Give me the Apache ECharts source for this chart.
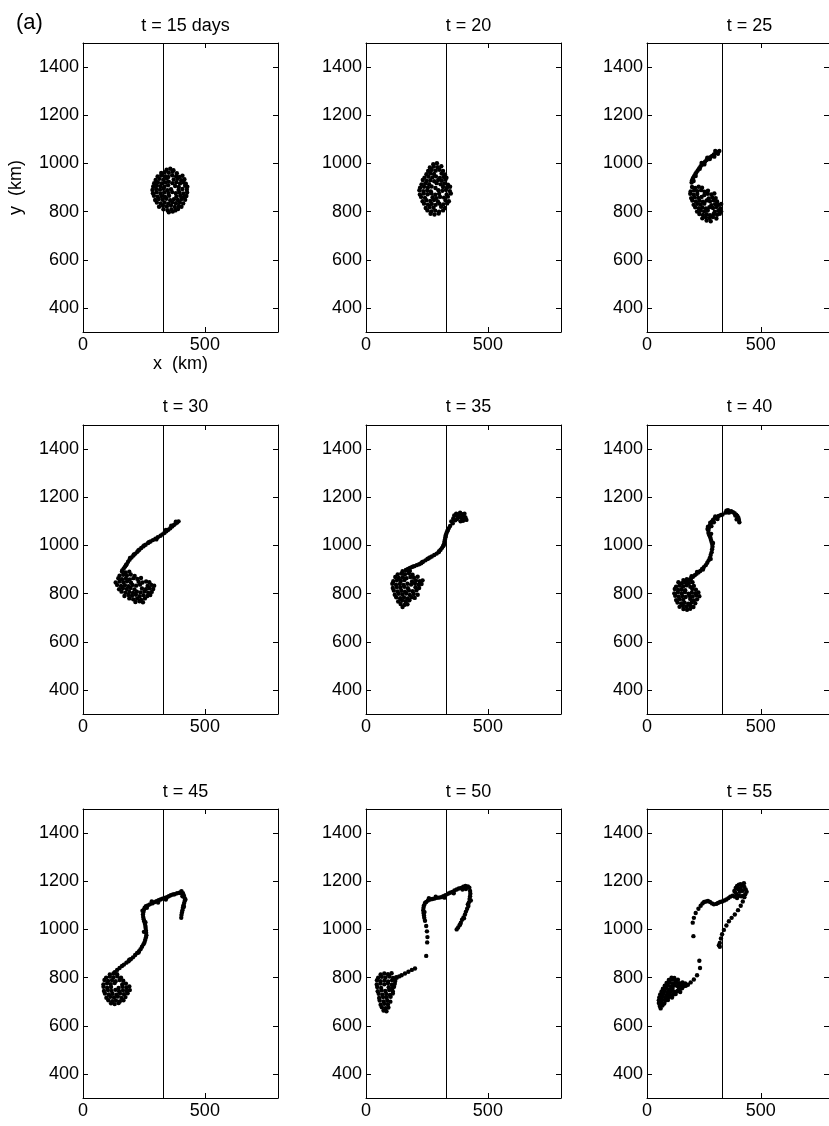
<!DOCTYPE html>
<html><head><meta charset="utf-8">
<script src="https://cdn.jsdelivr.net/npm/echarts@6/dist/echarts.min.js"></script>
<style>html,body{margin:0;padding:0;background:#fff}#c{width:829px;height:1126px}</style>
</head><body><div id="c"></div>
<script>
// ---------- data ----------
const panelTitles = ['t = 15 days', 't = 20', 't = 25', 't = 30', 't = 35', 't = 40', 't = 45', 't = 50', 't = 55'];
const xTicks = [0, 500];
const yTicks = [400, 600, 800, 1000, 1200, 1400];
const xRange = [0, 800];
const yRange = [300, 1500];
const frontX = 330;

const p15 = [[343,974],[358,978],[371,972],
[321,960],[336,964],[352,961],[368,966],[385,959],
[306,946],[321,950],[337,947],[350,944],[366,951],[382,947],[396,944],[408,949],
[298,931],[313,936],[329,932],[344,937],[372,933],[388,936],[403,930],[416,934],
[292,918],[307,922],[322,917],[339,921],[352,924],[367,918],[383,922],[398,917],[413,921],[422,916],
[288,904],[303,908],[318,905],[334,903],[349,909],[378,906],[393,902],[419,907],[428,903],
[285,890],[300,894],[316,891],[331,895],[346,889],[361,893],[392,890],[408,894],[426,891],
[287,876],[302,880],[318,875],[333,879],[350,877],[366,881],[381,876],[396,879],[412,875],[427,879],
[291,866],[306,862],[322,865],[337,861],[353,866],[383,862],[399,866],[414,861],[424,865],
[296,848],[311,852],[327,849],[342,853],[358,847],[373,851],[389,848],[404,852],[419,849],
[303,838],[319,834],[335,837],[350,833],[366,838],[381,835],[397,839],[411,834],
[312,820],[328,824],[344,821],[361,825],[377,819],[393,823],[404,820],
[330,810],[347,806],[363,809],[379,805],[390,811],
[352,797],[368,800]];

const p20 = [[276,997],[291,1001],
[262,983],[278,987],[294,984],[309,988],
[255,969],[270,973],[286,970],[301,974],[316,969],
[248,955],[264,959],[279,956],[310,958],[324,954],
[240,941],[256,945],[272,942],[287,946],[303,940],[318,944],[330,941],
[233,931],[249,927],[264,930],[280,926],[296,931],[311,928],[326,932],
[228,913],[243,917],[259,914],[290,918],[306,913],[321,916],[336,912],
[222,899],[238,903],[254,900],[269,904],[285,898],[316,902],[332,899],[345,903],
[219,889],[235,885],[251,888],[266,884],[297,889],[313,886],[328,890],[344,885],
[221,871],[237,875],[253,872],[268,876],[284,870],[300,874],[331,871],[348,875],
[226,861],[242,857],[273,860],[289,856],[304,861],[320,858],[336,862],
[232,843],[248,847],[264,844],[279,848],[295,842],[326,846],[340,843],
[238,833],[254,829],[270,832],[286,828],[301,833],[317,830],[333,834],
[245,815],[261,819],[277,816],[308,820],[324,815],
[252,805],[268,801],[284,804],[300,800],[316,805],
[265,791],[281,788],[298,792]];

const p25 = [[318,1052],[310,1047],[302,1043],[294,1037],[286,1031],[278,1026],[270,1020],[262,1014],[255,1007],[248,1001],
[241,994],[235,987],[229,979],[223,971],[217,963],[212,955],[207,947],[202,939],[198,930],[196,921],
[312,1040],[296,1028],[276,1018],[252,996],[232,978],[214,948],[205,927],[300,1052],[265,1024],[240,1002],
[198,902],[212,898],[227,903],[242,899],
[192,884],[207,888],[222,885],[238,889],[253,883],[268,887],
[190,874],[205,870],[221,873],[252,869],[267,874],[283,871],[296,875],
[194,856],[209,860],[225,857],[240,861],[271,855],[287,859],[302,856],
[199,846],[215,842],[231,845],[246,841],[262,846],[277,843],[293,847],[308,842],
[205,828],[221,832],[236,829],[252,833],[283,827],[299,831],[314,828],[326,832],
[212,818],[228,814],[243,817],[259,813],[274,818],[290,815],[305,819],[322,814],
[220,800],[236,804],[251,801],[267,805],[298,799],[313,803],[326,800],
[230,790],[246,786],[262,789],[277,785],[293,790],[308,787],[320,791],
[243,772],[259,776],[275,773],[290,777],[305,771],
[262,763],[280,760]];

const p30 = [[392,1100],[386,1095],[380,1091],[373,1085],[366,1079],[358,1071],[350,1065],[342,1059],[334,1052],[326,1046],
[318,1040],[307,1034],[297,1028],[287,1022],[277,1016],[267,1010],[257,1003],[247,996],[239,989],[231,982],
[223,974],[215,966],[207,958],[199,950],[191,941],[185,932],[179,922],[173,912],[167,904],[161,896],
[381,1098],[362,1082],[340,1064],[301,1025],[270,1013],[251,1000],[227,979],[209,963],[193,948],[176,918],
[160,892],[175,888],[190,891],
[150,874],[165,878],[180,875],[196,879],[212,873],
[145,864],[160,860],[176,863],[192,859],[207,864],[223,861],[238,865],
[134,846],[150,850],[166,847],[181,851],[197,845],[228,849],[244,846],[259,850],[272,847],
[140,836],[156,832],[172,835],[187,831],[203,836],[218,833],[234,837],[265,832],[280,836],[292,833],
[148,818],[164,822],[180,819],[195,823],[211,817],[242,821],[258,818],[273,822],[288,819],
[158,808],[174,804],[190,807],[205,803],[221,808],[236,805],[252,809],[267,804],[282,807],
[170,790],[186,794],[201,791],[217,795],[232,789],[248,793],[264,790],[276,794],
[190,780],[206,776],[222,779],[238,775],[254,780],
[215,765],[232,768],[246,764]];

const p35 = [[350,1100],[358,1112],[362,1124],[370,1132],[378,1128],[386,1136],[394,1130],[400,1124],[408,1116],[412,1106],
[402,1108],[392,1114],[384,1118],[374,1110],[366,1104],[356,1092],[388,1100],[398,1102],[376,1120],[404,1132],
[345,1081],[340,1072],[336,1064],[331,1053],[328,1044],[326,1034],[324,1025],[322,1016],[320,1006],[317,998],
[312,990],[306,982],[298,972],[290,966],[280,960],[270,954],[262,950],[252,944],[244,938],[234,932],
[226,926],[218,922],[208,918],[198,914],[188,910],[180,906],[172,902],[164,898],
[334,1060],[327,1040],[318,1000],[300,976],[256,946],[230,930],[192,912],
[150,893],[165,897],[180,894],
[130,879],[145,883],[160,880],[176,884],[191,878],
[120,869],[135,865],[151,868],[166,864],[182,869],[197,866],[212,870],
[112,851],[127,855],[143,852],[158,856],[189,850],[205,854],[220,851],[232,855],
[108,841],[123,837],[139,840],[154,836],[170,841],[185,838],[201,842],[216,837],[228,840],
[110,823],[126,827],[141,824],[157,828],[172,822],[203,826],[218,823],
[114,813],[129,809],[145,812],[160,808],[176,813],[191,810],[207,814],
[118,795],[134,799],[149,796],[165,800],[180,794],[196,798],[212,795],
[124,785],[140,781],[156,784],[171,780],[187,785],[200,782],
[132,767],[148,771],[163,768],[178,772],
[142,757],[158,753],[170,756],
[150,744]];

const p40 = [[349,1144],[356,1146],[364,1140],[370,1142],[378,1138],[385,1134],[392,1128],[397,1122],[402,1114],[404,1106],
[406,1096],[398,1118],[388,1124],[360,1136],[345,1136],[394,1108],
[332,1128],[325,1126],[315,1122],[305,1116],[297,1112],[290,1106],[285,1098],[280,1090],[276,1082],[272,1072],
[270,1062],[270,1052],[274,1042],[278,1034],[281,1024],[284,1014],[287,1004],[288,994],[286,984],[284,972],
[280,960],[276,948],[271,938],[265,928],[258,918],[250,910],[242,902],[234,894],[226,888],[218,882],
[210,876],[202,870],[194,864],[186,858],[178,852],[294,1096],[283,1080],[266,1068],[282,1048],[290,1010],
[280,944],[246,900],[220,890],[196,872],[300,1120],[310,1110],[278,1094],[268,1078],
[160,856],[175,860],[190,857],
[138,847],[153,843],[168,846],[184,842],[200,847],
[128,829],[143,833],[159,830],[174,834],[190,828],[206,832],
[122,819],[137,815],[152,818],[168,814],[199,819],[215,816],
[120,801],[135,805],[151,802],[166,806],[182,800],[197,804],[212,801],[226,805],
[124,791],[139,787],[155,790],[170,786],[186,791],[201,788],[217,792],[230,789],
[128,773],[143,777],[159,774],[190,778],[205,772],[220,776],
[134,763],[150,759],[165,762],[181,758],[196,763],[212,760],
[143,745],[158,749],[174,746],[190,750],[204,744],
[160,736],[176,733],[190,737]];

const p45 = [[404,1159],[410,1150],[414,1140],[417,1130],[418,1120],[415,1110],[412,1100],[410,1090],[408,1080],[406,1070],
[404,1060],[403,1048],[420,1124],[408,1138],[402,1150],[414,1094],
[396,1152],[386,1150],[376,1146],[369,1145],[360,1142],[352,1138],[344,1134],[335,1131],[326,1128],[318,1124],
[310,1121],[301,1117],[292,1113],[284,1108],[274,1104],[266,1100],[258,1096],[253,1090],[250,1082],[248,1072],
[246,1062],[247,1052],[249,1042],[251,1034],[254,1024],[256,1014],[257,1006],[258,996],[259,986],[260,976],
[258,966],[255,956],[252,946],[248,938],[242,928],[236,918],[230,910],[222,902],[214,894],[205,884],
[196,876],[187,868],[178,862],[168,854],[160,848],[150,840],[140,832],[130,822],
[340,1124],[308,1112],[282,1116],[262,1090],[244,1078],[256,1030],[250,990],[228,904],[190,874],
[110,813],[125,817],[140,814],
[95,800],[110,804],[125,801],[141,805],[156,799],
[88,790],[103,786],[119,789],[134,785],[150,790],[165,787],
[84,772],[99,776],[114,773],[130,777],[161,771],[176,775],
[84,762],[99,758],[115,761],[146,757],[162,762],[178,759],[190,763],
[86,744],[102,748],[117,745],[133,749],[148,743],[164,747],[179,744],[192,748],
[90,734],[106,730],[121,733],[137,729],[152,734],[168,731],[183,735],
[96,716],[112,720],[127,717],[143,721],[158,715],[174,719],
[104,706],[120,702],[135,705],[151,701],[166,706],
[115,693],[130,690],[146,694]];

const p50 = [[424,1173],[427,1160],[428,1148],[427,1138],[425,1126],[422,1112],[420,1097],[415,1086],[410,1074],[406,1062],
[400,1050],[394,1040],[389,1028],[384,1018],[378,1008],[372,1000],[430,1120],[418,1104],[402,1046],[386,1020],
[418,1178],[408,1180],[399,1177],[390,1172],[381,1170],[372,1166],[363,1162],[354,1156],[345,1152],[336,1148],
[326,1142],[317,1138],[308,1134],[299,1132],[290,1131],[281,1128],[272,1126],[263,1124],[254,1120],[247,1114],
[242,1110],[238,1100],[236,1090],[235,1080],[236,1068],[238,1058],[239,1048],[242,1036],[247,1014],[250,992],
[252,968],[251,946],[247,890],[410,1168],[396,1166],[360,1150],[322,1132],[286,1136],[258,1130],[240,1072],
[201,838],[188,832],[174,824],[160,817],[146,810],[136,805],[126,799],
[60,813],[75,817],[90,814],[105,818],
[50,799],[65,803],[80,800],[96,804],[111,798],[124,802],
[45,789],[60,785],[76,788],[91,784],[107,789],[120,786],
[44,771],[59,775],[75,772],[90,776],[106,770],[118,774],
[46,761],[62,757],[93,760],[108,756],[115,762],
[48,743],[64,747],[79,744],[95,748],[110,742],
[52,733],[67,729],[83,732],[98,728],[110,734],
[54,715],[70,719],[85,716],[101,720],
[56,705],[72,701],[87,704],[100,700],
[60,687],[75,691],[90,688],
[65,677],[80,673],[92,676],
[72,663],[84,660]];

const p55 = [[384,1160],[390,1172],[396,1180],[404,1186],[412,1188],[420,1184],[428,1176],[434,1166],[438,1156],[432,1146],
[424,1140],[414,1138],[404,1140],[394,1146],[388,1154],[400,1168],[412,1172],[420,1160],[408,1156],[396,1130],
[386,1136],[426,1192],
[428,1134],[421,1116],[412,1098],[400,1080],[386,1062],[372,1048],[360,1034],[349,1016],[338,998],[330,980],
[325,962],[320,944],[316,934],[320,928],
[376,1140],[366,1136],[358,1130],[349,1124],[340,1120],[330,1116],[321,1114],[312,1110],[304,1106],[294,1104],
[286,1108],[277,1114],[268,1118],[260,1116],[251,1114],[244,1108],[236,1098],[226,1086],
[214,1068],[206,1048],[201,1028],[204,972],
[230,870],[233,840],[220,810],[206,792],[192,780],[180,770],[168,766],[156,764],
[108,800],[120,798],
[96,790],[110,792],[124,788],[136,791],
[86,778],[100,780],[114,776],[128,779],[142,777],[156,780],[168,776],
[78,766],[92,768],[106,764],[120,767],[134,765],[148,768],[160,764],[172,767],
[70,754],[84,756],[98,752],[112,755],[140,753],[154,756],
[64,742],[78,744],[92,740],[106,743],[120,741],[134,744],[146,740],
[58,730],[72,732],[86,728],[100,731],[114,729],[126,732],
[54,718],[68,720],[82,716],[96,719],[110,717],
[52,706],[66,708],[80,704],[92,707],
[52,694],[64,696],[76,692],
[56,682],[68,684],
[60,672]];

const panels = [p15, p20, p25, p30, p35, p40, p45, p50, p55];

// ---------- layout ----------
const FONT = '"Liberation Sans", Arial, Helvetica, sans-serif';
const colLeft = [83, 366, 647], rowTop = [43, 425, 809], W = 195, H = 289;
const titleTop = [12, 393, 778];

const grid = [], xAxis = [], yAxis = [], series = [], title = [];
title.push({text: '(a)', left: 11, top: 7, textStyle: {fontSize: 22, fontWeight: 'normal', color: '#000', fontFamily: FONT}});

panels.forEach((pts, i) => {
  const r = Math.floor(i / 3), c = i % 3;
  grid.push({left: colLeft[c], top: rowTop[r], width: W, height: H, show: false});
  const axLine = {show: true, onZero: false, lineStyle: {color: '#000', width: 1}};
  const lbl = {fontSize: 18, color: '#000', fontFamily: FONT};
  const fmt = v => String(v);
  const xb = {gridIndex: i, type: 'value', min: xRange[0], max: xRange[1], position: 'bottom',
    axisLine: axLine, splitLine: {show: false},
    axisTick: {show: true, inside: true, length: 5, customValues: xTicks, lineStyle: {color: '#000'}},
    axisLabel: Object.assign({customValues: xTicks, margin: 4, formatter: fmt}, lbl)};
  if (i === 0) Object.assign(xb, {name: 'x  (km)', nameLocation: 'middle', nameGap: 20, nameTextStyle: lbl});
  xAxis.push(xb);
  xAxis.push({gridIndex: i, type: 'value', min: xRange[0], max: xRange[1], position: 'top',
    axisLine: axLine, splitLine: {show: false}, axisLabel: {show: false},
    axisTick: {show: true, inside: true, length: 5, customValues: xTicks, lineStyle: {color: '#000'}}});
  const yl = {gridIndex: i, type: 'value', min: yRange[0], max: yRange[1], position: 'left',
    axisLine: axLine, splitLine: {show: false},
    axisTick: {show: true, inside: true, length: 5, customValues: yTicks, lineStyle: {color: '#000'}},
    axisLabel: Object.assign({customValues: yTicks, margin: 4, formatter: fmt}, lbl)};
  if (i === 0) Object.assign(yl, {name: 'y  (km)', nameLocation: 'middle', nameGap: 58, nameTextStyle: lbl});
  yAxis.push(yl);
  yAxis.push({gridIndex: i, type: 'value', min: yRange[0], max: yRange[1], position: 'right',
    axisLine: axLine, splitLine: {show: false}, axisLabel: {show: false},
    axisTick: {show: true, inside: true, length: 5, customValues: yTicks, lineStyle: {color: '#000'}}});
  series.push({type: 'scatter', xAxisIndex: 2 * i, yAxisIndex: 2 * i, data: pts,
    symbol: 'circle', symbolSize: 4.4, itemStyle: {color: '#000', opacity: 1}, silent: true,
    markLine: {silent: true, symbol: 'none', label: {show: false},
      lineStyle: {color: '#000', width: 1, type: 'solid'}, data: [{xAxis: frontX}]}});
  title.push({text: panelTitles[i], left: colLeft[c] + W / 2, top: titleTop[r], textAlign: 'center',
    textStyle: {fontSize: 18, fontWeight: 'normal', color: '#000', fontFamily: FONT}});
});

const chart = echarts.init(document.getElementById('c'), null, {renderer: 'canvas'});
chart.setOption({animation: false, backgroundColor: '#fff', title, grid, xAxis, yAxis, series});
</script></body></html>
